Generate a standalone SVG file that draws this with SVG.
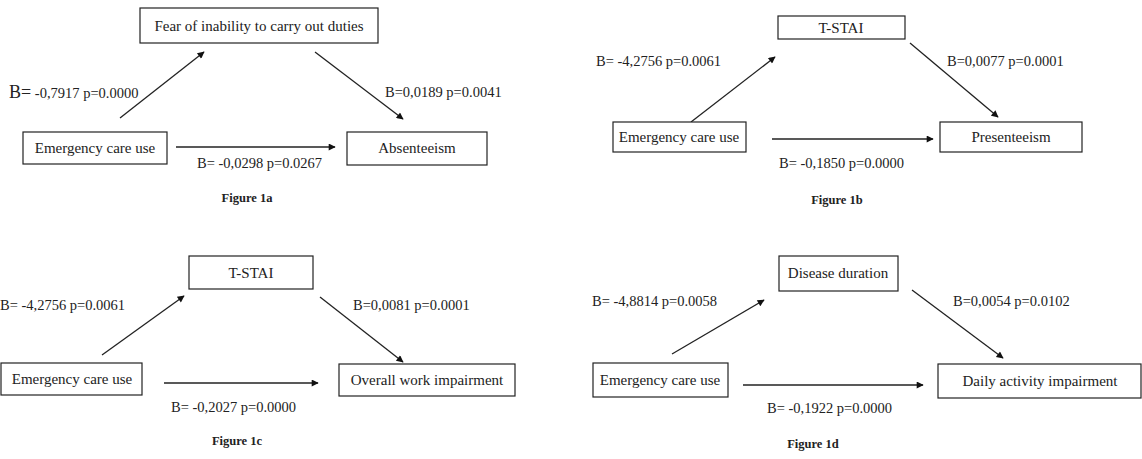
<svg xmlns="http://www.w3.org/2000/svg" width="1142" height="459" viewBox="0 0 1142 459">
<style>
.box{fill:#fff;stroke:#222;stroke-width:1.2}
.nt{font-family:"Liberation Serif","Times New Roman",serif;font-size:15px;fill:#222;text-anchor:middle}
.lb{font-family:"Liberation Serif","Times New Roman",serif;font-size:14.5px;fill:#222}
.cap{font-family:"Liberation Serif","Times New Roman",serif;font-size:12.5px;font-weight:bold;fill:#222;text-anchor:middle}
.ar{stroke:#222;stroke-width:1.3;fill:none;marker-end:url(#ah)}
</style>
<defs>
<marker id="ah" viewBox="0 0 10 10" refX="9" refY="5" markerWidth="9" markerHeight="7" markerUnits="userSpaceOnUse" orient="auto">
<path d="M0,0 L10,5 L0,10 Z" fill="#111"/>
</marker>
</defs>
<rect width="1142" height="459" fill="#fff"/>
<g id="connectors">
<line class="ar" x1="120" y1="118" x2="204" y2="52"/>
<line class="ar" x1="315" y1="52" x2="403" y2="119"/>
<line class="ar" x1="176" y1="147" x2="335" y2="147"/>
<line class="ar" x1="691" y1="122" x2="775" y2="57"/>
<line class="ar" x1="910" y1="43" x2="998" y2="117"/>
<line class="ar" x1="772" y1="139" x2="933" y2="139"/>
<line class="ar" x1="102" y1="355" x2="184" y2="296"/>
<line class="ar" x1="320" y1="297" x2="403" y2="362"/>
<line class="ar" x1="164" y1="383" x2="318" y2="383"/>
<line class="ar" x1="672" y1="354" x2="764" y2="300"/>
<line class="ar" x1="912" y1="290" x2="1003" y2="358"/>
<line class="ar" x1="743" y1="385" x2="923" y2="385"/>
</g>
<g id="fig1a">
<g id="a_fear"><rect class="box" x="140" y="8" width="238" height="35"/><text class="nt" x="259" y="31">Fear of inability to carry out duties</text></g>
<g id="a_emerg"><rect class="box" x="23" y="132" width="144" height="32"/><text class="nt" x="95" y="153">Emergency care use</text></g>
<g id="a_abs"><rect class="box" x="347" y="132" width="140" height="33"/><text class="nt" x="417" y="153">Absenteeism</text></g>
<text class="lb" x="9" y="98"><tspan font-size="18">B=</tspan><tspan font-size="14.5"> -0,7917 p=0.0000</tspan></text>
<text class="lb" x="385" y="97">B=0,0189 p=0.0041</text>
<text class="lb" x="197" y="168" font-size="14">B= -0,0298 p=0.0267</text>
<text class="cap" x="247" y="202">Figure 1a</text>
</g>
<g id="fig1b">
<g id="b_tstai"><rect class="box" x="778" y="16" width="127" height="23"/><text class="nt" x="841" y="33">T-STAI</text></g>
<g id="b_emerg"><rect class="box" x="613" y="122" width="133" height="30"/><text class="nt" x="679" y="142">Emergency care use</text></g>
<g id="b_pres"><rect class="box" x="940" y="122" width="142" height="30"/><text class="nt" x="1011" y="142">Presenteeism</text></g>
<text class="lb" x="596" y="66">B= -4,2756 p=0.0061</text>
<text class="lb" x="947" y="66">B=0,0077 p=0.0001</text>
<text class="lb" x="779" y="168">B= -0,1850 p=0.0000</text>
<text class="cap" x="837" y="204">Figure 1b</text>
</g>
<g id="fig1c">
<g id="c_tstai"><rect class="box" x="189" y="256" width="124" height="33"/><text class="nt" x="251" y="278">T-STAI</text></g>
<g id="c_emerg"><rect class="box" x="1" y="363" width="141" height="32"/><text class="nt" x="72" y="384">Emergency care use</text></g>
<g id="c_owi"><rect class="box" x="339" y="364" width="176" height="32"/><text class="nt" x="427" y="385">Overall work impairment</text></g>
<text class="lb" x="0" y="310">B= -4,2756 p=0.0061</text>
<text class="lb" x="353" y="310">B=0,0081 p=0.0001</text>
<text class="lb" x="171" y="412">B= -0,2027 p=0.0000</text>
<text class="cap" x="237" y="445">Figure 1c</text>
</g>
<g id="fig1d">
<g id="d_dd"><rect class="box" x="779" y="256" width="119" height="35"/><text class="nt" x="838" y="278">Disease duration</text></g>
<g id="d_emerg"><rect class="box" x="593" y="363" width="135" height="34"/><text class="nt" x="660" y="385">Emergency care use</text></g>
<g id="d_dai"><rect class="box" x="938" y="364" width="203" height="34"/><text class="nt" x="1040" y="386">Daily activity impairment</text></g>
<text class="lb" x="592" y="306">B= -4,8814 p=0.0058</text>
<text class="lb" x="953" y="306">B=0,0054 p=0.0102</text>
<text class="lb" x="767" y="413">B= -0,1922 p=0.0000</text>
<text class="cap" x="813" y="448">Figure 1d</text>
</g>
</svg>
